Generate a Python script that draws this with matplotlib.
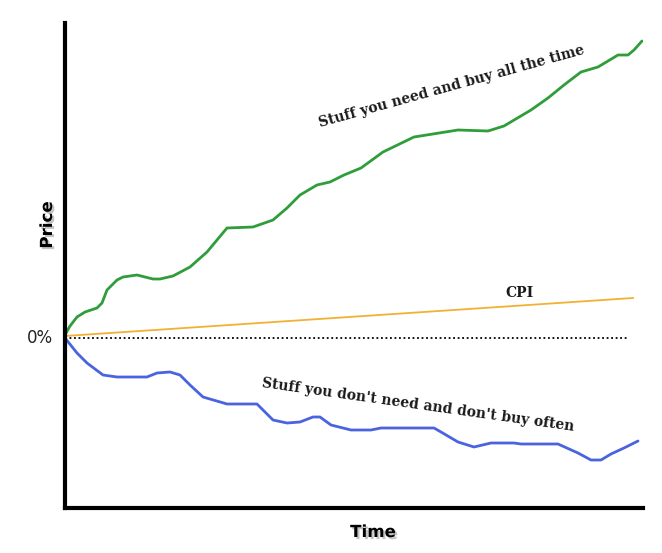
import matplotlib
matplotlib.use("Agg")
import matplotlib.pyplot as plt
import matplotlib.patheffects as pe

# Data (x: time units, y: price change units; 0 = 0%)
need_x = [0, 5, 12, 20, 32, 37, 42, 52, 58, 72, 88, 95, 108, 125, 142, 162, 188, 208, 222, 235,
          252, 265, 279, 296, 318, 349, 393, 423, 439, 466, 483, 499, 516, 533, 553, 563, 569, 577]
need_y = [3, 12, 21, 26, 30, 35, 48, 58, 61, 63, 59, 59, 62, 71, 86, 110, 111, 118, 130, 143,
          153, 156, 163, 170, 186, 201, 208, 207, 212, 228, 240, 253, 266, 271, 283, 283, 288, 297]

cpi_x = [0, 568]
cpi_y = [2, 40]

zero_x = [0, 564]
zero_y = [0, 0]

avoid_x = [0, 12, 22, 38, 52, 72, 82, 92, 105, 115, 125, 138, 162, 192, 198, 208, 222, 235, 248,
           255, 266, 286, 306, 316, 369, 376, 393, 409, 426, 449, 456, 493, 513, 526, 536, 546, 559, 573]
avoid_y = [0, -15, -25, -37, -39, -39, -39, -35, -34, -37, -47, -59, -66, -66, -72, -82, -85, -84, -79,
           -79, -87, -92, -92, -90, -90, -94, -104, -109, -105, -105, -106, -106, -115, -122, -122, -116, -110, -103]

fig = plt.figure(figsize=(6.62, 5.53), dpi=100)
ax = fig.add_axes([65/662, 1 - 508/553, (643 - 65)/662, (508 - 23)/553])
ax.set_xlim(0, 578)
ax.set_ylim(-170, 315)

ax.plot(need_x, need_y, color="#2f9d3a", lw=2.0, solid_capstyle="round")
ax.plot(cpi_x, cpi_y, color="#f2b134", lw=1.3)
ax.plot(zero_x, zero_y, color="black", lw=1.3, linestyle=(0, (1, 1.5)))
ax.plot(avoid_x, avoid_y, color="#4a63df", lw=2.0, solid_capstyle="round")

for s in ["top", "right"]:
    ax.spines[s].set_visible(False)
for s in ["left", "bottom"]:
    ax.spines[s].set_linewidth(3)
    ax.spines[s].set_color("black")
ax.set_xticks([])
ax.set_yticks([])

serif = ["DejaVu Serif"]
ax.text(387, 251, "Stuff you need and buy all the time", rotation=15.5, ha="center", va="center",
        fontsize=10, fontweight="bold", family=serif, color="#1a1a1a")
ax.text(454, 45, "CPI", ha="center", va="center", fontsize=10, fontweight="bold", family=serif,
        color="#1a1a1a")
ax.text(353, -67, "Stuff you don't need and don't buy often", rotation=-8, ha="center", va="center",
        fontsize=10, fontweight="bold", family=serif, color="#1a1a1a")

shadow = [pe.withSimplePatchShadow(offset=(1.5, -1.5), shadow_rgbFace="#888888", alpha=0.5)]
fig.text(47/662, 1 - 225/553, "Price", rotation=90, ha="center", va="center", fontsize=12,
         fontweight="bold", family=["DejaVu Sans"], path_effects=shadow)
fig.text(373/662, 1 - 532/553, "Time", ha="center", va="center", fontsize=12,
         fontweight="bold", family=["DejaVu Sans"], path_effects=shadow)
fig.text(40/662, 1 - 338/553, "0%", ha="center", va="center", fontsize=12,
         family=["DejaVu Sans"], color="#222222")

fig.savefig("out.png", dpi=100)
